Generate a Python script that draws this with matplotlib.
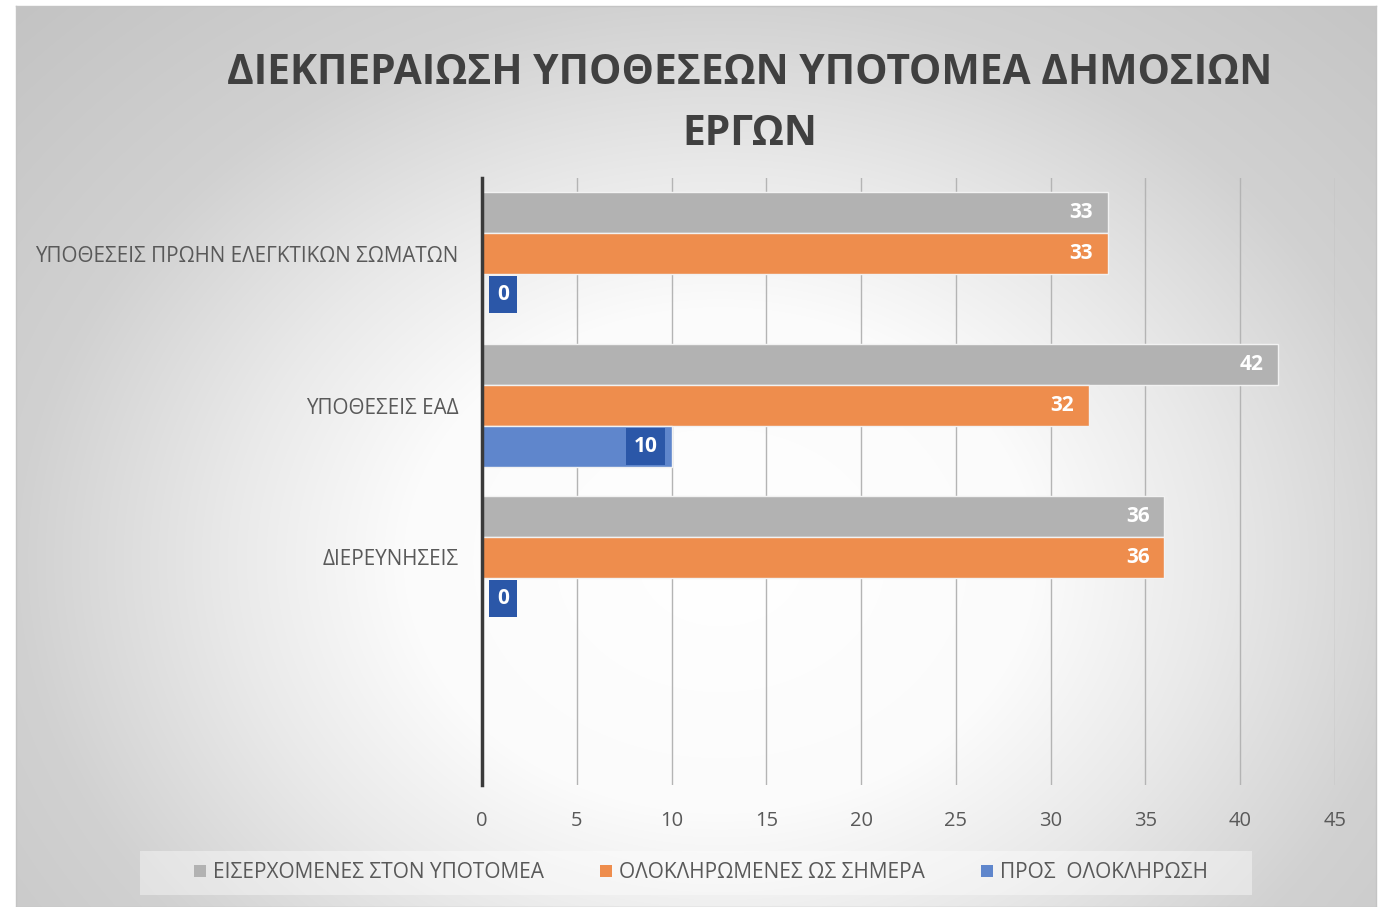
import numpy as np
import matplotlib
matplotlib.use("Agg")
import matplotlib.pyplot as plt
from matplotlib.patches import Patch, Rectangle

plt.rcParams['font.family'] = ['Open Sans', 'DejaVu Sans']

# ---- data ----
categories = ["ΥΠΟΘΕΣΕΙΣ ΠΡΩΗΝ ΕΛΕΓΚΤΙΚΩΝ ΣΩΜΑΤΩΝ", "ΥΠΟΘΕΣΕΙΣ ΕΑΔ", "ΔΙΕΡΕΥΝΗΣΕΙΣ", ""]
incoming = [33, 42, 36, None]
completed = [33, 32, 36, None]
pending = [0, 10, 0, None]
series_names = ["ΕΙΣΕΡΧΟΜΕΝΕΣ ΣΤΟΝ ΥΠΟΤΟΜΕΑ", "ΟΛΟΚΛΗΡΩΜΕΝΕΣ ΩΣ ΣΗΜΕΡΑ", "ΠΡΟΣ  ΟΛΟΚΛΗΡΩΣΗ"]
xticks = [0, 5, 10, 15, 20, 25, 30, 35, 40, 45]
title = "ΔΙΕΚΠΕΡΑΙΩΣΗ ΥΠΟΘΕΣΕΩΝ ΥΠΟΤΟΜΕΑ ΔΗΜΟΣΙΩΝ\nΕΡΓΩΝ"

colors = ['#b2b2b2', '#ee8d4d', '#5f86cc']
label_box = '#2b57a8'
text_col = '#595959'

W, H = 1381, 907
fig = plt.figure(figsize=(W / 100, H / 100), dpi=100)
fig.patch.set_facecolor('white')

# background radial gradient (pixel-space)
bx0, bx1, by0, by1 = 16, 1376, 6, 907
bg = fig.add_axes([bx0 / W, 1 - by1 / H, (bx1 - bx0) / W, (by1 - by0) / H], zorder=0)
ny, nx = by1 - by0, bx1 - bx0
yy, xx = np.mgrid[0:ny, 0:nx]
cx, cy = 720 - bx0, 560 - by0
d = np.sqrt(((xx - cx) / 700.0) ** 2 + ((yy - cy) / 560.0) ** 2)
val = np.interp(d, [0, 0.45, 0.7, 1.0, 1.45], [1.0, 0.985, 0.915, 0.82, 0.76])
bg.imshow(np.dstack([val, val, val]), aspect='auto', extent=[0, 1, 0, 1], origin='upper',
          interpolation='bilinear')
bg.set_xticks([])
bg.set_yticks([])
for sp in bg.spines.values():
    sp.set_color('#c4c4c4')
    sp.set_linewidth(1.0)

ax = fig.add_axes([482 / W, 1 - 785 / H, (1335 - 482) / W, (785 - 178) / H], zorder=1)
ax.patch.set_alpha(0)

n = len(categories)
y = np.arange(n)
h = 0.27
series = [incoming, completed, pending]
offsets = [-h, 0, h]
for s, vals in enumerate(series):
    for i, v in enumerate(vals):
        if v is None:
            continue
        ax.barh(y[i] + offsets[s], v, height=h, color=colors[s],
                edgecolor='#f2f2f2', linewidth=1.0, zorder=2)
        if s < 2:
            ax.annotate(str(v), xy=(v, y[i] + offsets[s]), xytext=(-15 * 0.72, 0),
                        textcoords='offset points', ha='right', va='center',
                        color='white', fontsize=15, fontweight='bold', zorder=4)
        else:
            if v > 0:
                ax.annotate(str(v), xy=(v, y[i] + offsets[s]), xytext=(-14 * 0.72, 0),
                            textcoords='offset points', ha='right', va='center',
                            color='white', fontsize=15, fontweight='bold', zorder=4,
                            bbox=dict(boxstyle='square,pad=0.38', fc=label_box, ec='none'))
            else:
                ax.annotate(str(v), xy=(v, y[i] + offsets[s]), xytext=(15 * 0.72, 0),
                            textcoords='offset points', ha='left', va='center',
                            color='white', fontsize=15, fontweight='bold', zorder=4,
                            bbox=dict(boxstyle='square,pad=0.38', fc=label_box, ec='none'))

ax.set_ylim(n - 0.5, -0.5)
ax.set_xlim(0, 45)
ax.set_xticks(xticks)
ax.set_xticklabels([str(t) for t in xticks])
ax.set_yticks(y)
ax.set_yticklabels(categories)
ax.tick_params(axis='both', length=0, labelcolor=text_col)
ax.tick_params(axis='x', pad=19, labelsize=14.5)
ax.tick_params(axis='y', pad=17, labelsize=14.9)
ax.grid(axis='x', color='#b4b4b4', linewidth=1.0, zorder=0)
ax.set_axisbelow(True)
for sp in ['top', 'right', 'bottom']:
    ax.spines[sp].set_visible(False)
ax.spines['left'].set_color('#3a3a3a')
ax.spines['left'].set_linewidth(2.5)
ax.spines['left'].set_zorder(5)

fig.text(750 / W, 1 - 104 / H, title, ha='center', va='center', fontsize=29.3,
         fontweight='bold', color='#404040', linespacing=1.62)

# legend background band
fig.patches.append(Rectangle((140 / W, 1 - 895 / H), (1252 - 140) / W, 44 / H,
                             transform=fig.transFigure, facecolor='white', alpha=0.4,
                             edgecolor='none', zorder=1))
handles = [Patch(facecolor=c, edgecolor='none') for c in colors]
leg = fig.legend(handles, series_names, loc='center', bbox_to_anchor=(701 / W, 1 - 873 / H),
                 ncol=3, frameon=False, fontsize=15, labelcolor=text_col,
                 handlelength=0.55, handleheight=0.55, handletextpad=0.35,
                 columnspacing=2.7, borderpad=0.3)

fig.savefig('out.png', dpi=100)
